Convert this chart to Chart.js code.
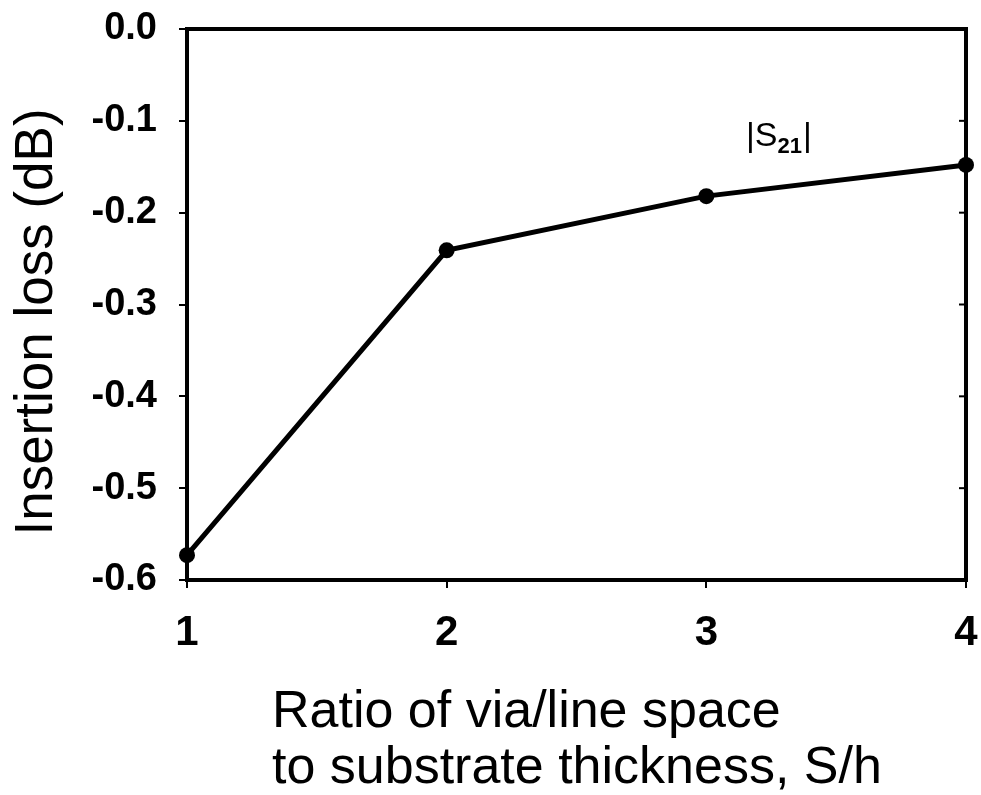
<!DOCTYPE html>
<html>
<head>
<meta charset="utf-8">
<script src="https://cdn.jsdelivr.net/npm/chart.js@4"></script>
<style>
  html, body { margin: 0; padding: 0; background: #fff; }
  #wrap { width: 981px; height: 795px; }
</style>
</head>
<body>
<div id="wrap"><canvas id="loss-chart" width="981" height="795"></canvas></div>
<script>
// Data
const spacingRatio = [1, 2, 3, 4];
const insertionLoss = [-0.573, -0.241, -0.182, -0.148];
const yTicks = [0, -0.1, -0.2, -0.3, -0.4, -0.5, -0.6];
const yTitle = "Insertion loss (dB)";
const xTitleLines = ["Ratio of via/line space", "to substrate thickness, S/h"];

const FONT = "'Liberation Sans', Arial, Helvetica, sans-serif";

// frame, inward ticks on the right side, axis titles and the |S21| label
const decorations = {
  id: "decorations",
  afterDraw(chart) {
    const ctx = chart.ctx;
    const area = chart.chartArea;
    const y = chart.scales.y;
    ctx.save();
    ctx.strokeStyle = "#000";
    ctx.lineWidth = 4;
    ctx.beginPath();
    ctx.moveTo(area.left - 2, area.top);
    ctx.lineTo(area.right, area.top);
    ctx.lineTo(area.right, area.bottom + 2);
    ctx.stroke();

    ctx.lineWidth = 2;
    yTicks.forEach(v => {
      const py = y.getPixelForValue(v);
      ctx.beginPath();
      ctx.moveTo(area.right - 7, py);
      ctx.lineTo(area.right, py);
      ctx.stroke();
    });

    ctx.fillStyle = "#000";
    ctx.textAlign = "left";
    ctx.textBaseline = "alphabetic";
    ctx.font = "52px " + FONT;
    ctx.fillText(xTitleLines[0], 272, 727);
    ctx.fillText(xTitleLines[1], 272, 783);

    // y title, rotated
    ctx.save();
    ctx.translate(37, 322);
    ctx.rotate(-Math.PI / 2);
    ctx.textAlign = "center";
    ctx.textBaseline = "middle";
    ctx.font = "53px " + FONT;
    ctx.fillText(yTitle, 0, 0);
    ctx.restore();

    // |S21| label
    ctx.font = "34px " + FONT;
    let lx = 746;
    ctx.fillText("|S", lx, 146);
    lx += ctx.measureText("|S").width;
    ctx.font = "bold 22px " + FONT;
    ctx.fillText("21", lx, 153);
    lx += ctx.measureText("21").width + 1;
    ctx.font = "34px " + FONT;
    ctx.fillText("|", lx, 146);
    ctx.restore();
  }
};

function initChart() {
  const ctx = document.getElementById("loss-chart").getContext("2d");
  new Chart(ctx, {
    type: "line",
    data: {
      datasets: [{
        label: "|S21|",
        data: spacingRatio.map((x, i) => ({ x: x, y: insertionLoss[i] })),
        borderColor: "#000",
        backgroundColor: "#000",
        borderWidth: 5,
        pointRadius: 8,
        pointBackgroundColor: "#000",
        pointBorderWidth: 0,
        tension: 0,
        clip: false
      }]
    },
    plugins: [decorations],
    options: {
      responsive: false,
      animation: false,
      layout: { padding: { top: 29, right: 15, left: 0, bottom: 0 } },
      plugins: {
        legend: { display: false },
        tooltip: { enabled: false }
      },
      scales: {
        x: {
          type: "linear",
          min: 1,
          max: 4,
          afterFit: scale => {
            scale.height = 215;
            scale.paddingLeft = 0;
            scale.paddingRight = 0;
          },
          ticks: {
            stepSize: 1,
            color: "#000",
            padding: 20,
            font: { family: FONT, size: 42, weight: "bold" }
          },
          grid: { drawOnChartArea: false, color: "#000", lineWidth: 2, tickLength: 8 },
          border: { color: "#000", width: 4 }
        },
        y: {
          min: -0.6,
          max: 0,
          afterFit: scale => {
            scale.width = 187;
            scale.paddingTop = 0;
            scale.paddingBottom = 0;
          },
          afterBuildTicks: scale => { scale.ticks = yTicks.map(v => ({ value: v })); },
          ticks: {
            color: "#000",
            padding: 22,
            callback: v => v.toFixed(1),
            font: { family: FONT, size: 38, weight: "bold" }
          },
          grid: { drawOnChartArea: false, color: "#000", lineWidth: 2, tickLength: 8 },
          border: { color: "#000", width: 4 }
        }
      }
    }
  });
}

document.addEventListener("DOMContentLoaded", initChart);
</script>
</body>
</html>
